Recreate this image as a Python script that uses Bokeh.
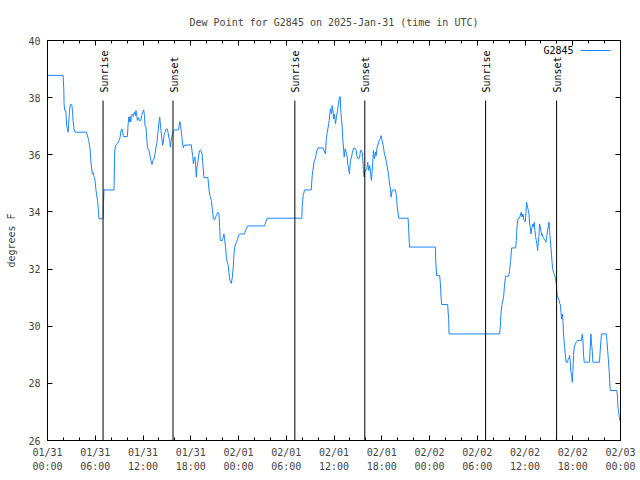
import math
from bokeh.plotting import figure
from bokeh.models import LinearAxis, FixedTicker, Range1d, Label, BoxAnnotation
from bokeh.core.properties import value
from bokeh.embed import file_html
from bokeh.resources import INLINE

# hours since 2025-01-31 00:00 UTC
hours = [
    0.00, 1.96, 2.05, 2.08, 2.17, 2.30, 2.42, 2.59, 2.71, 2.84, 3.05, 3.14, 3.21, 3.34, 3.46,
    4.90, 5.02, 5.18, 5.35, 5.43, 5.52, 5.65, 5.72, 5.81, 5.90, 5.97, 6.10, 6.28, 6.40, 6.48,
    6.98, 7.03, 7.10, 8.36, 8.45, 8.57, 8.79, 8.99, 9.11, 9.24, 9.36, 9.45, 9.54, 10.04,
    10.12, 10.20, 10.29, 10.37, 10.46, 10.54, 10.67, 10.79, 10.92, 11.05, 11.12, 11.21,
    11.30, 11.42, 11.55, 11.71, 11.84, 11.96, 12.09, 12.18, 12.25, 12.38, 12.46, 12.55,
    12.63, 12.75, 12.88, 13.00, 13.13, 13.25, 13.38, 13.51, 13.63, 13.76, 13.88, 14.01,
    14.10, 14.18, 14.26, 14.35, 14.47, 14.56, 14.64, 14.76, 14.89, 15.06, 15.14, 15.23,
    15.35, 15.44, 15.51, 15.60, 15.73, 15.85, 15.98, 16.48, 16.57, 16.64, 16.73, 16.82,
    16.89, 16.98, 17.07, 17.15, 18.07, 18.15, 18.24, 18.33, 18.45, 18.53, 18.61, 18.70,
    18.78, 18.90, 19.03, 19.12, 19.20, 19.28, 19.41, 19.49, 19.58, 19.66, 20.16, 20.28,
    20.41, 20.59, 20.71, 20.84, 21.00, 21.13, 21.25, 21.41, 21.54, 21.63, 21.71, 21.97,
    22.09, 22.17, 22.25, 22.38, 22.47, 22.59, 22.72, 22.79, 22.92, 23.10, 23.22, 23.35,
    23.42, 23.51, 23.64, 23.76, 23.85, 23.97, 24.05, 24.18, 24.76, 24.89, 25.02, 25.18,
    27.28, 27.40, 27.61, 31.96, 32.01, 32.13, 32.30, 33.14, 33.26, 33.39, 33.51, 33.68,
    33.80, 33.97, 34.64, 34.81, 34.93, 35.02, 35.15, 35.27, 35.40, 35.47, 35.56, 35.69,
    35.77, 35.90, 35.97, 36.06, 36.19, 36.31, 36.44, 36.56, 36.69, 36.78, 36.85, 36.94,
    37.03, 37.10, 37.19, 37.28, 37.40, 37.53, 37.66, 37.73, 37.86, 37.94, 38.07, 38.20,
    38.32, 38.45, 38.66, 38.79, 38.91, 39.04, 39.20, 39.33, 39.45, 39.58, 39.70, 39.79,
    39.87, 39.99, 40.12, 40.24, 40.37, 40.49, 40.58, 40.71, 40.83, 40.96, 41.08, 41.21,
    41.30, 41.42, 41.55, 41.67, 41.80, 41.92, 42.00, 42.09, 42.21, 42.34, 42.46, 42.59,
    42.71, 42.84, 42.93, 43.05, 43.18, 43.30, 43.43, 43.72, 43.84, 43.93, 44.06, 44.13,
    45.31, 45.39, 45.48, 48.74, 48.78, 48.90, 49.28, 49.37, 49.45, 49.53, 50.28, 50.41,
    50.46, 56.81, 56.90, 56.99, 57.11, 57.31, 57.44, 57.56, 57.94, 58.06, 58.19, 58.32,
    58.82, 58.91, 58.99, 59.12, 59.32, 59.45, 59.53, 59.62, 59.75, 59.87, 60.04, 60.12,
    60.20, 60.29, 60.38, 60.50, 60.58, 60.66, 60.75, 60.83, 60.91, 61.00, 61.08, 61.17,
    61.25, 61.33, 61.42, 61.50, 61.58, 61.67, 61.76, 61.83, 61.92, 62.01, 62.08, 62.17,
    62.26, 62.38, 62.51, 62.63, 62.76, 62.83, 62.92, 63.01, 63.09, 63.17, 63.26, 63.34,
    63.42, 63.51, 63.59, 63.68, 63.80, 63.93, 64.02, 64.09, 64.18, 64.27, 64.34, 64.43,
    64.52, 64.59, 64.68, 64.77, 64.84, 64.97, 65.09, 65.18, 65.35, 65.43, 65.52, 65.60,
    65.68, 65.77, 65.85, 65.94, 66.02, 66.10, 66.19, 66.31, 66.44, 66.60, 67.10, 67.19,
    67.28, 67.35, 67.44, 68.11, 68.19, 68.28, 68.36, 68.45, 68.53, 69.36, 69.45, 69.54,
    69.61, 70.20, 70.29, 70.42, 70.54, 70.62, 70.71, 71.55, 71.62, 71.67, 71.75, 71.90,
]

dewpoint = [
    38.78, 38.78, 38.27, 37.78, 37.55, 37.55, 37.00, 36.79, 37.30, 37.75, 37.75, 37.55, 37.20, 36.90, 36.79,
    36.79, 36.67, 36.50, 36.21, 35.86, 35.57, 35.33, 35.38, 35.27, 35.20, 35.10, 34.75, 34.40, 34.05, 33.76,
    33.76, 34.28, 34.77, 34.77, 36.15, 36.33, 36.40, 36.50, 36.60, 36.85, 36.90, 36.79, 36.64, 36.64,
    37.02, 37.32, 37.15, 37.34, 37.15, 37.38, 37.43, 37.34, 37.49, 37.38, 37.55, 37.38,
    37.20, 37.30, 37.20, 37.20, 37.38, 37.49, 37.57, 37.38, 37.02, 36.97, 36.62, 36.29,
    36.20, 36.15, 35.97, 35.80, 35.66, 35.80, 35.86, 36.03, 36.27, 36.44, 36.79, 37.14,
    37.32, 37.08, 36.85, 36.62, 36.33, 36.44, 36.68, 36.79, 36.90, 36.90, 36.79, 36.62,
    36.50, 36.27, 36.44, 36.62, 36.73, 36.85, 36.87, 36.87, 37.08, 37.16, 37.02, 36.79,
    36.62, 36.38, 36.24, 36.33, 36.35, 36.15, 35.97, 35.68, 35.86, 35.92, 35.62, 35.22,
    35.57, 35.74, 36.03, 36.15, 36.17, 36.15, 36.03, 35.80, 35.45, 35.20, 35.20, 34.80,
    34.57, 34.40, 34.10, 33.76, 33.72, 33.82, 33.90, 33.99, 33.93, 33.49, 33.00, 33.00,
    33.12, 33.23, 33.06, 32.77, 32.42, 32.24, 32.12, 31.89, 31.60, 31.50, 31.70, 32.10,
    32.47, 32.74, 32.88, 32.94, 33.02, 33.12, 33.20, 33.23, 33.23, 33.35, 33.43, 33.51,
    33.51, 33.62, 33.78, 33.78, 34.22, 34.57, 34.77, 34.77, 35.27, 35.54, 35.78, 35.89,
    36.10, 36.24, 36.24, 36.10, 36.03, 36.50, 36.79, 36.97, 37.20, 37.43, 37.61, 37.43,
    37.72, 37.49, 37.26, 37.43, 37.08, 37.32, 37.55, 37.78, 38.02, 38.04, 37.55, 37.26,
    36.97, 36.56, 36.27, 35.92, 36.21, 36.09, 35.92, 35.68, 35.47, 35.33, 35.80, 35.92,
    36.09, 36.23, 36.23, 36.15, 35.92, 35.88, 35.88, 36.15, 36.15, 36.03, 35.45, 35.22,
    35.45, 35.45, 35.51, 35.74, 35.45, 35.62, 35.39, 35.10, 35.57, 36.15, 35.86, 36.09,
    35.97, 36.27, 36.38, 36.50, 36.56, 36.67, 36.56, 36.44, 36.27, 36.03, 35.92, 35.74,
    35.54, 35.33, 35.10, 34.87, 34.52, 34.75, 34.77, 34.77, 34.57, 34.22, 33.93, 33.78,
    33.78, 33.35, 32.77, 32.77, 32.30, 31.77, 31.77, 31.48, 31.02, 30.76, 30.76, 30.22,
    29.73, 29.73, 29.99, 30.46, 30.76, 31.02, 31.48, 31.75, 31.75, 31.95, 32.27, 32.74,
    32.74, 33.00, 33.47, 33.76, 33.79, 33.93, 33.99, 33.82, 33.93, 33.70, 33.66, 33.99,
    34.34, 34.22, 34.10, 33.93, 33.58, 33.47, 33.23, 33.41, 33.47, 33.58, 33.47, 33.64,
    33.35, 33.14, 33.00, 32.88, 32.65, 32.94, 33.18, 33.58, 33.47, 33.35, 33.18, 33.23,
    33.12, 33.06, 33.00, 32.94, 33.18, 33.35, 33.47, 33.64, 33.35, 33.06, 32.77, 32.47,
    32.18, 31.97, 31.89, 31.80, 31.72, 31.48, 31.13, 31.07, 30.95, 30.95, 30.80, 30.78,
    30.49, 30.25, 30.43, 30.20, 29.73, 29.29, 28.92, 28.74, 28.74, 28.86, 28.86, 28.98,
    28.80, 28.39, 28.33, 28.04, 28.45, 28.98, 29.27, 29.36, 29.44, 29.50, 29.50, 29.73,
    29.50, 29.03, 28.74, 28.74, 29.27, 29.73, 29.38, 29.15, 28.74, 28.74, 29.15, 29.50,
    29.73, 29.73, 29.50, 29.03, 28.57, 28.22, 27.75, 27.75, 27.52, 27.17, 27.05, 26.70,
]

sun_times = [6.98, 15.77, 31.08, 39.87, 55.05, 63.97]
sun_labels = ["Sunrise", "Sunset", "Sunrise", "Sunset", "Sunrise", "Sunset"]

x_ticks = [0, 6, 12, 18, 24, 30, 36, 42, 48, 54, 60, 66, 72]
x_tick_labels = ["01/31\n00:00", "01/31\n06:00", "01/31\n12:00", "01/31\n18:00",
                 "02/01\n00:00", "02/01\n06:00", "02/01\n12:00", "02/01\n18:00",
                 "02/02\n00:00", "02/02\n06:00", "02/02\n12:00", "02/02\n18:00",
                 "02/03\n00:00"]
x_minor = [h for h in range(0, 73, 2)]
y_ticks = [26, 28, 30, 32, 34, 36, 38, 40]

FONT = "DejaVu Sans Mono"
FS = "10px"
BLUE = "#1a85ff"
Y0, Y1 = 26, 40

p = figure(width=640, height=480, output_backend="svg", toolbar_location=None,
           x_range=Range1d(0, 72), y_range=Range1d(Y0, Y1),
           x_axis_location=None, y_axis_location=None,
           min_border_left=47, min_border_right=20, min_border_top=40, min_border_bottom=40,
           background_fill_color="white", border_fill_color="white")
p.grid.visible = False
p.outline_line_color = "black"
p.outline_line_width = 1

p.title.text = "Dew Point for G2845 on 2025-Jan-31 (time in UTC)"
p.title.text_font = FONT
p.title.text_font_size = FS
p.title.text_font_style = "normal"
p.title.align = "center"
p.title.standoff = 25


def style_axis(ax, show_labels, minor, ticks):
    ax.axis_line_color = "black"
    ax.major_tick_in = 5
    ax.major_tick_out = 0
    ax.minor_tick_in = 3 if minor else 0
    ax.minor_tick_out = 0
    ax.major_tick_line_color = "black"
    ax.minor_tick_line_color = "black" if minor else None
    ax.major_label_text_font = FONT
    ax.major_label_text_font_size = FS
    if not show_labels:
        ax.major_label_overrides = {t: "" for t in ticks}
        ax.major_label_standoff = 0


xticker = FixedTicker(ticks=x_ticks, minor_ticks=x_minor)
yticker = FixedTicker(ticks=y_ticks, minor_ticks=[])

xb = LinearAxis(ticker=xticker)
style_axis(xb, True, True, x_ticks)
xb.major_label_overrides = {t: lab for t, lab in zip(x_ticks, x_tick_labels)}
xb.major_label_standoff = 6
xb.major_label_text_line_height = 1.3
p.add_layout(xb, "below")

xt = LinearAxis(ticker=xticker)
style_axis(xt, False, True, x_ticks)
p.add_layout(xt, "above")

yl = LinearAxis(ticker=yticker, axis_label="degrees F")
style_axis(yl, True, False, y_ticks)
yl.major_label_standoff = 7
yl.axis_label_text_font = FONT
yl.axis_label_text_font_size = FS
yl.axis_label_text_font_style = "normal"
yl.axis_label_standoff = 8
p.add_layout(yl, "left")

yr = LinearAxis(ticker=yticker)
style_axis(yr, False, False, y_ticks)
p.add_layout(yr, "right")

# data line
p.line(hours, dewpoint, line_color=BLUE, line_width=1)

# sunrise / sunset markers
line_top = Y0 + 0.85 * (Y1 - Y0)
label_y = Y0 + 0.87 * (Y1 - Y0)
p.segment(x0=sun_times, y0=[Y0] * len(sun_times), x1=sun_times, y1=[line_top] * len(sun_times),
          line_color="black", line_width=1)
p.text(x=sun_times, y=[label_y] * len(sun_times), text=sun_labels, angle=math.pi / 2,
       text_align="left", text_baseline="middle", x_offset=1,
       text_font=value(FONT), text_font_size=FS, text_color="black")

# legend (gnuplot style: text then sample line), frame-relative screen units
p.add_layout(Label(x=526, y=390, x_units="screen", y_units="screen", text="G2845",
                   text_align="right", text_baseline="middle",
                   text_font=FONT, text_font_size=FS, text_color="black"))
p.add_layout(BoxAnnotation(left=533, right=563, bottom=389.5, top=390.5,
                           left_units="screen", right_units="screen",
                           bottom_units="screen", top_units="screen",
                           fill_color=BLUE, fill_alpha=1, line_alpha=0))

open("out.html", "w").write(file_html(p, INLINE))
